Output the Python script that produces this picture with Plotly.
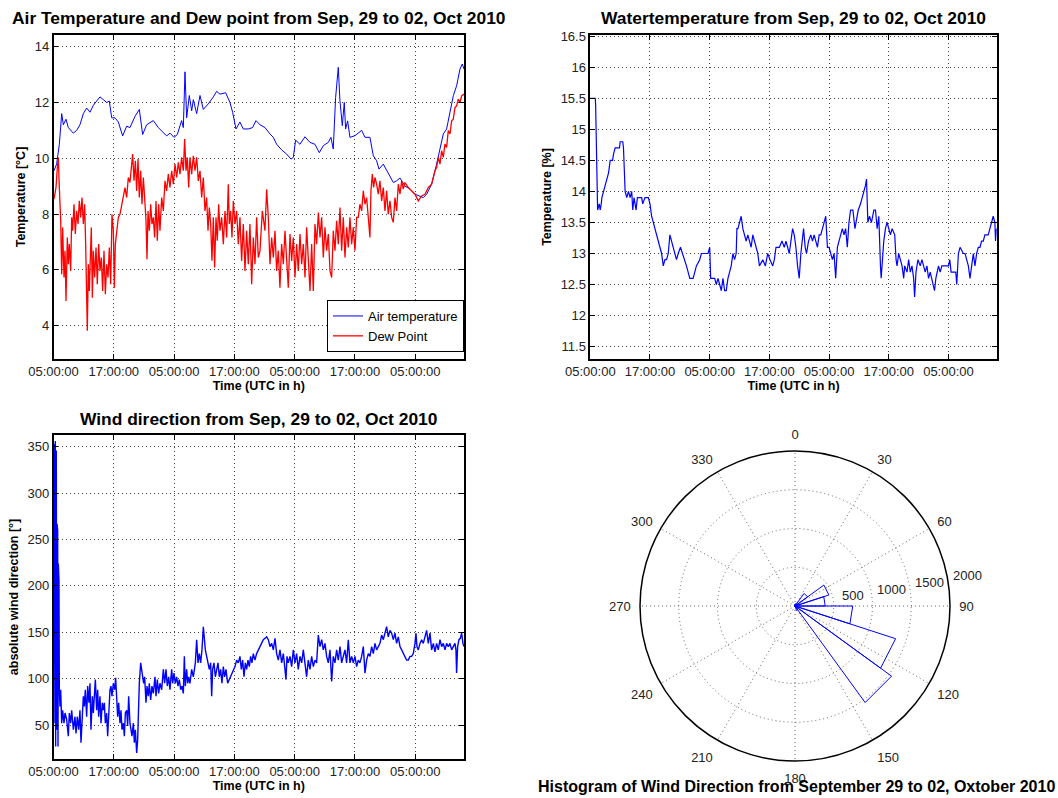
import math
import pandas as pd
import plotly.graph_objects as go

BASE = pd.Timestamp("2010-09-29 05:00:00")
X_END = "2010-10-02 14:42:00"

# ---------------- Air temperature (hours since 29 Sep 05:00, degC)
air_hours = [0.1, 0.63, 1.16, 1.63, 1.96, 2.49, 2.95, 3.42, 3.95, 4.61, 5.27, 5.94, 6.6, 7.26, 7.93,
             8.59, 9.25, 9.92, 10.58, 11.11, 11.58, 12.24, 12.9, 13.76, 14.56, 15.22, 16.22, 17.08,
             17.74, 18.54, 19.86, 20.86, 21.86, 22.52, 23.18, 23.98, 24.64, 25.5, 25.84, 26.17, 26.5,
             27.03, 27.5, 27.83, 28.49, 29.16, 29.82, 30.81, 31.81, 32.47, 33.13, 34.26, 35.12, 35.65,
             36.32, 37.1, 37.77, 38.77, 39.63, 40.3, 41.09, 42.09, 43.09, 43.75, 44.41, 45.4, 46.4,
             47.26, 47.73, 48.19, 49.05, 50.05, 51.04, 52.04, 52.9, 53.7, 54.69, 55.22, 55.68, 56.15,
             56.68, 57.01, 57.48, 57.87, 58.14, 58.54, 59.0, 60.0, 61.33, 61.99, 62.98, 63.65, 64.31,
             64.78, 65.64, 66.31, 66.97, 67.63, 68.29, 68.96, 69.95, 70.95, 71.94, 72.94, 73.6, 74.26,
             75.26, 76.25, 76.92, 77.58, 78.24, 78.91, 79.57, 80.23, 80.9, 81.36, 81.7]
air_temp = [9.55, 9.8, 10.5, 11.6, 11.2, 11.4, 11.1, 11.0, 10.9, 11.0, 11.2, 11.6, 11.8, 11.65, 11.9,
            12.05, 12.2, 12.1, 12.0, 12.05, 11.45, 11.45, 11.3, 10.8, 11.15, 11.1, 11.5, 11.75,
            10.85, 11.2, 11.35, 11.1, 10.9, 10.8, 10.9, 10.75, 10.85, 11.35, 11.1, 13.1, 11.45,
            12.25, 11.7, 12.1, 11.6, 12.25, 11.75, 11.95, 12.2, 12.4, 12.3, 12.35, 12.0, 11.65,
            11.05, 11.3, 11.05, 11.05, 11.1, 11.35, 11.2, 11.1, 10.87, 10.75, 10.5, 10.3, 10.15,
            9.97, 10.03, 10.65, 10.5, 10.77, 10.57, 10.5, 10.2, 10.45, 10.57, 10.75, 10.33, 12.18,
            13.26, 12.06, 11.17, 12.0, 11.05, 11.34, 10.75, 10.81, 11.0, 10.75, 10.75, 10.09, 9.91,
            9.61, 9.79, 9.55, 9.31, 9.13, 9.19, 9.29, 9.0, 8.9, 8.71, 8.65, 8.59, 8.71,
            9.07, 9.79, 10.39, 10.87, 11.05, 11.7, 12.24, 12.6, 13.2, 13.38, 13.2]

# ---------------- Dew point (hours, degC)
dew_hours = [0.1, 0.5, 0.76, 0.96, 1.16, 1.43, 1.63, 1.82, 2.09, 2.29, 2.49, 2.75, 2.95, 3.15, 3.42,
             3.62, 3.81, 4.08, 4.34, 4.61, 4.88, 5.14, 5.41, 5.67, 5.94, 6.2, 6.4, 6.6, 6.73, 6.93,
             7.13, 7.33, 7.53, 7.73, 7.93, 8.19, 8.46, 8.72, 8.99, 9.25, 9.52, 9.78, 10.05, 10.32,
             10.58, 10.85, 11.11, 11.38, 11.64, 11.91, 12.11, 12.31, 12.57, 12.9, 13.23, 13.57, 13.9,
             14.23, 14.56, 14.89, 15.22, 15.49, 15.75, 16.02, 16.29, 16.55, 16.82, 17.08, 17.35,
             17.61, 17.88, 18.14, 18.41, 18.61, 18.81, 19.07, 19.34, 19.6, 19.87, 20.13, 20.4, 20.66,
             20.93, 21.19, 21.53, 21.86, 22.19, 22.52, 22.85, 23.18, 23.52, 23.85, 24.18, 24.51,
             24.84, 25.17, 25.5, 25.84, 26.1, 26.37, 26.63, 26.9, 27.16, 27.5, 27.83, 28.16, 28.49,
             28.82, 29.16, 29.49, 29.82, 30.15, 30.48, 30.75, 31.01, 31.28, 31.54, 31.81, 32.07,
             32.34, 32.6, 32.87, 33.13, 33.47, 33.8, 34.13, 34.46, 34.79, 34.99, 35.26, 35.52, 35.79,
             36.12, 36.45, 36.78, 37.11, 37.44, 37.78, 38.11, 38.44, 38.77, 39.1, 39.44, 39.77, 40.1,
             40.43, 40.76, 41.09, 41.56, 42.09, 42.42, 42.75, 43.09, 43.42, 43.75, 44.08, 44.41,
             44.74, 45.07, 45.4, 45.74, 46.07, 46.4, 46.73, 47.07, 47.4, 47.73, 48.06, 48.39, 48.72,
             49.06, 49.39, 49.72, 50.05, 50.38, 50.72, 51.05, 51.38, 51.71, 52.04, 52.37, 52.71,
             53.04, 53.37, 53.7, 54.03, 54.36, 54.69, 55.03, 55.36, 55.69, 56.02, 56.35, 56.68,
             57.02, 57.35, 57.68, 58.01, 58.34, 58.67, 59.0, 59.34, 59.67, 60.0, 60.33, 60.66, 60.99,
             61.33, 61.66, 61.99, 62.32, 62.65, 62.98, 63.18, 63.45, 63.71, 63.98, 64.31, 64.64,
             64.97, 65.31, 65.64, 65.97, 66.3, 66.63, 66.97, 67.3, 67.63, 67.96, 68.29, 68.62, 68.96,
             69.29, 69.62, 69.95, 70.61, 71.28, 71.94, 72.6, 73.27, 73.93, 74.59, 75.26, 75.59,
             75.92, 76.25, 76.58, 76.92, 77.25, 77.58, 77.91, 78.24, 78.57, 78.91, 79.24, 79.57,
             79.9, 80.23, 80.56, 80.9, 81.23, 81.69]
dew_point = [8.53, 8.95, 9.67, 10.03, 8.95, 7.76, 5.84, 7.52, 5.72, 6.68, 4.88, 7.16, 6.2, 6.92, 5.96,
             7.88, 7.4, 8.35, 7.28, 8.11, 7.64, 8.47, 7.88, 8.59, 7.64, 8.35, 6.92, 5.0, 3.81, 6.2,
             5.24, 6.44, 7.52, 5.0, 6.68, 5.72, 6.8, 5.48, 6.92, 5.96, 6.44, 5.24, 6.68, 5.12,
             6.2, 5.72, 6.8, 5.48, 7.99, 7.4, 5.36, 6.92, 7.4, 7.88, 7.99, 8.35, 8.59,
             8.95, 8.59, 9.31, 9.13, 9.79, 10.15, 9.19, 9.91, 8.83, 9.97, 8.59, 9.55,
             8.35, 9.31, 8.59, 7.76, 6.38, 8.11, 7.4, 8.35, 7.64, 7.88, 7.16, 8.47, 7.04,
             8.35, 7.4, 8.59, 8.11, 9.19, 8.83, 9.43, 8.95, 9.55, 9.07, 9.79, 9.31,
             9.85, 9.43, 10.03, 9.55, 10.69, 9.55, 10.03, 8.95, 10.03, 9.43, 10.09, 9.55, 10.03,
             9.19, 9.55, 8.59, 9.31, 8.11, 8.59, 7.4, 8.23, 7.64, 6.32, 7.88, 6.08,
             7.88, 7.04, 8.35, 7.4, 7.88, 6.92, 8.11, 7.16, 9.07, 7.64, 8.11, 7.16, 8.47,
             7.64, 8.11, 6.92, 7.88, 6.32, 7.64, 5.96, 7.4, 6.2, 7.64, 5.48, 7.16, 6.2,
             7.88, 6.44, 6.68, 8.11, 7.4, 8.89, 7.88, 6.2, 7.16, 6.44, 7.4, 5.96,
             6.68, 5.36, 6.92, 6.2, 7.4, 6.44, 5.36, 7.28, 6.32, 7.16, 5.72, 6.92, 5.96,
             7.28, 6.2, 6.92, 5.72, 7.52, 6.2, 5.24, 6.92, 5.24, 7.64, 6.92, 8.05,
             7.16, 7.88, 6.44, 7.52, 6.68, 7.28, 5.96, 5.72, 7.4, 6.68, 7.76, 6.92,
             8.23, 6.68, 7.88, 6.44, 7.52, 6.8, 7.88, 6.92, 7.52, 6.68, 7.88, 7.88, 8.35,
             8.11, 8.83, 8.35, 8.59, 7.88, 7.16, 8.83, 9.43, 8.95, 9.31, 9.07, 8.71,
             9.19, 8.47, 8.95, 8.11, 8.83, 7.99, 8.47, 7.88, 7.7, 8.59, 8.11, 9.07, 8.71,
             9.19, 8.89, 9.13, 8.95, 8.83, 8.71, 8.47, 8.65, 8.71, 8.95, 9.07, 9.31,
             9.55, 9.67, 10.03, 9.79, 10.27, 10.03, 10.51, 10.39, 10.99, 10.87, 11.34, 11.4,
             11.82, 11.88, 12.12, 12.0, 12.24, 12.3]

# ---------------- Water temperature (hours, degC)
water_hours = [0.0, 1.0, 1.07, 1.13, 1.2, 1.27, 1.47, 1.8, 2.0, 2.2, 2.33, 2.67, 3.0, 3.33, 3.67, 4.0,
               4.47, 4.67, 5.0, 5.87, 6.0, 6.53, 6.67, 7.0, 7.33, 7.67, 8.0, 8.33, 8.53, 8.8, 9.2,
               9.47, 10.33, 10.53, 11.0, 11.67, 12.0, 12.33, 12.67, 12.87, 13.2, 13.67, 14.0, 14.33,
               14.67, 15.0, 15.33, 15.67, 16.0, 16.33, 16.67, 17.0, 17.33, 17.67, 18.13, 18.53, 19.0,
               19.33, 19.67, 20.0, 20.67, 21.0, 21.33, 22.0, 22.33, 23.67, 24.0, 24.2, 25.0, 25.33,
               25.67, 26.0, 26.33, 26.67, 27.0, 27.33, 27.67, 28.0, 28.33, 28.67, 29.0, 29.33, 29.47,
               29.67, 30.0, 30.33, 30.67, 31.0, 31.33, 31.67, 32.0, 32.33, 32.67, 33.0, 33.33, 33.67,
               34.0, 34.67, 35.2, 35.67, 36.13, 36.67, 37.0, 37.33, 38.0, 38.53, 39.0, 39.33, 39.67,
               40.0, 40.33, 40.67, 41.0, 41.33, 41.67, 42.0, 42.33, 42.67, 42.87, 43.2, 43.47, 43.87,
               44.33, 44.67, 45.0, 45.33, 45.67, 46.0, 46.33, 46.67, 47.0, 47.33, 47.67, 48.0, 48.33,
               48.67, 49.0, 49.33, 49.67, 50.0, 50.33, 50.67, 51.0, 51.33, 51.67, 52.0, 52.33, 52.8,
               53.2, 53.47, 53.87, 54.33, 54.67, 55.0, 55.33, 55.53, 55.8, 56.13, 56.53, 57.0, 57.33,
               57.67, 58.0, 58.33, 58.47, 59.0, 59.33, 59.67, 60.0, 60.33, 60.67, 61.2, 61.47, 61.67,
               62.0, 62.33, 62.67, 63.0, 63.2, 63.67, 64.0, 64.33, 64.67, 65.0, 65.2, 65.47, 65.87,
               66.33, 66.67, 67.0, 67.33, 67.67, 68.0, 68.33, 68.67, 69.0, 69.2, 69.47, 69.73, 70.0,
               70.33, 70.67, 72.0, 72.27, 72.53, 73.47, 73.67, 74.0, 74.33, 75.0, 75.33, 75.67, 76.0,
               76.33, 76.67, 77.0, 77.33, 77.67, 78.0, 78.33, 78.67, 79.0, 79.33, 80.0, 80.33, 80.67,
               81.0, 81.33, 81.47, 81.67]
water_temp = [15.5, 15.5, 15.4, 15.1, 15.4, 15.1, 13.7, 13.8, 13.7, 13.8, 13.9, 14.0, 14.1, 14.2, 14.3, 14.5,
              14.5, 14.6, 14.7, 14.7, 14.8, 14.8, 14.7, 14.0, 13.9, 14.0, 13.9, 14.0, 13.7, 13.9, 13.7,
              13.9, 13.9, 13.8, 13.9, 13.9, 13.8, 13.6, 13.5, 13.4, 13.3, 13.2, 13.1, 13.0,
              12.8, 12.9, 12.9, 13.0, 13.3, 13.2, 13.1, 13.0, 12.9, 13.0, 13.1, 13.0, 12.9,
              12.8, 12.7, 12.6, 12.6, 12.7, 12.8, 12.9, 13.0, 13.0, 13.1, 12.6, 12.6, 12.5,
              12.6, 12.5, 12.4, 12.6, 12.4, 12.4, 12.6, 12.7, 12.8, 13.0, 12.9, 13.0, 13.4,
              13.4, 13.5, 13.6, 13.4, 13.3, 13.2, 13.3, 13.2, 13.1, 13.3, 13.2, 13.1, 13.0,
              12.8, 12.9, 12.8, 13.0, 12.9, 12.8, 12.9, 13.1, 13.1, 13.2, 13.1, 13.2, 13.1,
              13.0, 13.2, 13.4, 13.3, 13.1, 12.8, 12.6, 13.0, 13.2, 13.4, 13.1, 13.0, 13.2,
              13.3, 13.2, 13.3, 13.2, 13.1, 13.3, 13.3, 13.4, 13.5, 13.6, 13.1, 13.1, 13.0,
              12.9, 13.0, 12.6, 13.1, 13.2, 13.3, 13.4, 13.3, 13.4, 13.1, 13.5, 13.7, 13.7,
              13.4, 13.5, 13.7, 13.8, 13.9, 14.0, 14.1, 14.2, 13.5, 13.6, 13.5, 13.7, 13.7,
              13.4, 13.6, 12.8, 12.6, 13.2, 13.4, 13.5, 13.4, 13.3, 13.4, 13.3, 12.9, 12.8,
              13.0, 12.9, 12.8, 12.6, 12.8, 12.7, 12.9, 12.7, 12.8, 12.6, 12.3, 12.7, 12.9,
              12.8, 12.9, 12.8, 12.7, 12.8, 12.6, 12.7, 12.6, 12.5, 12.4, 12.6, 12.7, 12.8,
              12.7, 12.8, 12.8, 12.9, 12.7, 12.7, 12.5, 13.0, 13.1, 13.0, 13.0, 12.9, 12.8,
              12.6, 12.8, 13.0, 12.8, 13.0, 13.1, 13.1, 13.2, 13.2, 13.3, 13.3, 13.4, 13.5,
              13.6, 13.5, 13.2, 13.4]

# ---------------- Wind direction (hours, degrees)
wind_hours = [0.10, 0.17, 0.23, 0.30, 0.36, 0.43, 0.50, 0.56, 0.63, 0.70, 0.76, 0.83, 0.90, 0.96, 1.03,
              1.09, 1.16, 1.29, 1.43, 1.56, 1.63, 1.82, 2.09, 2.29, 2.62, 2.95, 3.15, 3.42, 3.62,
              3.95, 4.28, 4.48, 4.74, 5.01, 5.27, 5.47, 5.67, 5.94, 6.14, 6.33, 6.60, 6.80, 7.06,
              7.26, 7.46, 7.73, 7.93, 8.13, 8.33, 8.59, 8.79, 8.99, 9.25, 9.45, 9.72, 9.92, 10.12,
              10.32, 10.58, 10.78, 10.98, 11.24, 11.44, 11.64, 11.91, 12.17, 12.37, 12.57, 12.77,
              12.97, 13.23, 13.43, 13.63, 13.90, 14.10, 14.30, 14.56, 14.76, 14.96, 15.22, 15.42,
              15.62, 15.89, 16.09, 16.29, 16.55, 16.75, 16.95, 17.08, 17.35, 17.55, 17.74, 17.94,
              18.14, 18.41, 18.61, 18.87, 19.07, 19.34, 19.60, 19.87, 20.20, 20.40, 20.66, 20.93,
              21.19, 21.53, 21.86, 22.12, 22.39, 22.65, 22.92, 23.18, 23.52, 23.72, 23.98, 24.25,
              24.51, 24.78, 25.04, 25.31, 25.57, 25.84, 26.04, 26.23, 26.50, 26.70, 26.90, 27.16,
              27.50, 27.83, 28.23, 28.49, 28.76, 29.02, 29.29, 29.55, 29.82, 30.02, 30.22, 30.48,
              30.75, 31.01, 31.28, 31.48, 31.67, 31.94, 32.21, 32.47, 32.74, 33.00, 33.27, 33.53,
              33.80, 34.06, 34.33, 34.66, 34.99, 35.26, 35.52, 35.79, 36.12, 36.45, 36.78, 37.11,
              37.38, 37.65, 37.91, 38.18, 38.44, 38.71, 38.97, 39.24, 39.50, 39.77, 40.10, 40.43,
              40.76, 41.10, 41.43, 41.76, 42.09, 42.42, 42.75, 43.09, 43.42, 43.75, 44.08, 44.41,
              44.74, 45.08, 45.41, 45.74, 46.07, 46.27, 46.47, 46.73, 47.07, 47.40, 47.73, 48.06,
              48.39, 48.72, 49.06, 49.39, 49.72, 50.05, 50.38, 50.71, 51.05, 51.38, 51.71, 52.04,
              52.37, 52.70, 53.04, 53.37, 53.70, 54.03, 54.36, 54.69, 55.03, 55.36, 55.69, 56.02,
              56.35, 56.68, 57.02, 57.35, 57.68, 58.01, 58.34, 58.67, 59.01, 59.34, 59.67, 60.00,
              60.33, 60.66, 60.99, 61.33, 61.66, 61.99, 62.32, 62.65, 62.99, 63.32, 63.65, 63.98,
              64.31, 64.64, 64.98, 65.31, 65.64, 65.97, 66.30, 66.63, 66.97, 67.30, 67.63, 67.96,
              68.29, 68.62, 68.96, 69.29, 69.62, 69.95, 70.28, 70.61, 70.95, 71.28, 71.61, 71.94,
              72.14, 72.34, 72.60, 72.94, 73.27, 73.60, 73.93, 74.26, 74.59, 74.93, 75.26, 75.59,
              75.92, 76.25, 76.58, 76.92, 77.25, 77.58, 77.91, 78.24, 78.57, 78.91, 79.24, 79.57,
              79.90, 80.10, 80.23, 80.43, 80.70, 80.96, 81.23, 81.49, 81.69]
wind_dir = [52, 296, 353, 152, 356, 27, 331, 346, 45, 267, 117, 260, 27, 224, 152,
            206, 88, 70, 88, 63, 52, 66, 52, 63, 56, 38, 63, 52, 66,
            45, 59, 41, 59, 45, 66, 31, 52, 81, 70, 88, 59, 92, 74,
            95, 45, 81, 63, 81, 99, 66, 88, 59, 81, 52, 74, 66, 74,
            52, 63, 38, 66, 88, 92, 81, 95, 88, 101, 81, 59,
            74, 52, 66, 45, 52, 38, 63, 66, 49, 81, 52, 45,
            38, 52, 31, 45, 20, 34, 81, 95, 117, 110, 106, 95,
            102, 74, 92, 81, 95, 77, 92, 84, 102, 81, 99, 84,
            95, 88, 110, 95, 110, 92, 102, 88, 110, 95, 106, 95,
            102, 92, 99, 88, 92, 84, 124, 92, 110, 95, 102, 95,
            110, 102, 117, 142, 117, 127, 117, 131, 156, 138, 131, 124,
            117, 110, 117, 81, 110, 117, 102, 110, 117, 102, 110, 95,
            113, 102, 110, 95, 99, 102, 106, 110, 113, 120, 117, 124,
            110, 120, 102, 117, 110, 120, 113, 124, 117, 127, 120, 127,
            131, 134.5, 138, 142, 143.5, 145, 142, 134.5, 138, 131, 143.5, 127,
            120, 131, 117, 127, 110, 99, 124, 117, 124, 113, 131, 117,
            127, 110, 124, 117, 131, 113, 102, 120, 110, 124, 113, 120,
            117, 147, 134.5, 142, 131, 138, 124, 117, 131, 97, 124, 117,
            131, 120, 134.5, 117, 124, 131, 117, 142, 117, 124, 117, 124,
            113, 120, 117, 124, 134.5, 106, 120, 127, 124, 134.5, 127, 138,
            131, 134.5, 138, 147, 142, 149, 156, 145, 152, 149, 142, 149,
            138, 145, 134.5, 131, 127, 124, 120, 120, 124, 124, 127, 138,
            149, 134.5, 131, 138, 142, 138, 145, 152, 138, 149, 131, 138,
            129, 138, 131, 142, 134.5, 138, 131, 138, 134.5, 138, 131, 134.5,
            138, 131, 106, 134.5, 142, 143.5, 149, 138, 134.5]

# ---------------- Wind-direction rose histogram (20 bins of 18 degrees)
rose_edges = list(range(0, 361, 18))
rose_counts = [20, 35, 200, 460, 390, 745, 1365, 1540, 60, 5,
               3, 3, 3, 3, 4, 4, 4, 5, 8, 20]
angle_ticks = list(range(0, 360, 30))
radial_ticks = [500, 1000, 1500, 2000]
RADIAL_MAX = 2000


def to_time(hours):
    return BASE + pd.to_timedelta(hours, unit="h")


rose_theta, rose_r = [], []
for lo, hi, c in zip(rose_edges[:-1], rose_edges[1:], rose_counts):
    rose_theta += [lo, lo, hi, hi, None]
    rose_r += [0, c, c, 0, None]

FONT = "Liberation Sans, Arial, Helvetica, sans-serif"
W, H = 1058, 798
GRID_DASH = "1px,3px"
GRID_COLOR = "#444444"

# polar placement (pixels)
POLAR_CX, POLAR_CY, POLAR_R = 795, 606, 155
RLABEL_ANGLE = 80      # compass angle of the radial labels
RLABEL_PAD = 20        # outward offset of radial labels from their rings (px)

fig = go.Figure()
fig.add_trace(go.Scatter(x=to_time(air_hours), y=air_temp, mode="lines", name="Air temperature",
                         line=dict(color="#0000ff", width=1), xaxis="x", yaxis="y"))
fig.add_trace(go.Scatter(x=to_time(dew_hours), y=dew_point, mode="lines", name="Dew Point",
                         line=dict(color="#ff0000", width=1.3), xaxis="x", yaxis="y"))
fig.add_trace(go.Scatter(x=to_time(water_hours), y=water_temp, mode="lines", showlegend=False,
                         line=dict(color="#0000ff", width=1.2), xaxis="x2", yaxis="y2"))
fig.add_trace(go.Scatter(x=to_time(wind_hours), y=wind_dir, mode="lines", showlegend=False,
                         line=dict(color="#0000ff", width=1.4), xaxis="x3", yaxis="y3"))
fig.add_trace(go.Scatterpolar(r=rose_r, theta=rose_theta, mode="lines", showlegend=False,
                              line=dict(color="#0000ff", width=1), subplot="polar"))


def px_x(a, b):
    return [a / W, b / W]


def px_y(top, bottom):
    return [1 - bottom / H, 1 - top / H]


common_x = dict(type="date", range=["2010-09-29 05:00:00", X_END], tick0="2010-09-29 05:00:00",
                dtick=12 * 3600 * 1000, tickformat="%H:%M:%S", showline=True, mirror="allticks",
                linecolor="black", linewidth=1.5, ticks="inside", ticklen=5, tickcolor="black",
                showgrid=True, gridcolor=GRID_COLOR, griddash=GRID_DASH, gridwidth=1, zeroline=False,
                tickfont=dict(size=13, color="#222"),
                title=dict(text="<b>Time (UTC in h)</b>", font=dict(size=12.5, color="black"), standoff=2))
common_y = dict(showline=True, mirror="allticks", linecolor="black", linewidth=1.5, ticks="inside",
                ticklen=5, tickcolor="black", showgrid=True, gridcolor=GRID_COLOR, griddash=GRID_DASH,
                gridwidth=1, zeroline=False, tickfont=dict(size=13, color="#222"))

fig.update_layout(
    width=W, height=H, margin=dict(l=0, r=0, t=0, b=0, autoexpand=False),
    paper_bgcolor="white", plot_bgcolor="white",
    font=dict(family=FONT, color="black"),
    xaxis=dict(common_x, domain=px_x(53.5, 464), anchor="y"),
    yaxis=dict(common_y, domain=px_y(35, 359), anchor="x", range=[2.8, 14.42], dtick=2,
               title=dict(text="<b>Temperature [°C]</b>", font=dict(size=12.5), standoff=6)),
    xaxis2=dict(common_x, domain=px_x(590.3, 996.7), anchor="y2"),
    yaxis2=dict(common_y, domain=px_y(35, 359), anchor="x2", range=[11.3, 16.52], dtick=0.5,
                title=dict(text="<b>Temperature [%]</b>", font=dict(size=12.5), standoff=6)),
    xaxis3=dict(common_x, domain=px_x(53.5, 464), anchor="y3"),
    yaxis3=dict(common_y, domain=px_y(435, 759), anchor="x3", range=[13.4, 362.6], dtick=50,
                title=dict(text="<b>absolute wind direction [°]</b>", font=dict(size=12.5), standoff=6)),
    polar=dict(
        domain=dict(x=px_x(POLAR_CX - POLAR_R, POLAR_CX + POLAR_R),
                    y=px_y(POLAR_CY - POLAR_R, POLAR_CY + POLAR_R)),
        bgcolor="white",
        angularaxis=dict(rotation=90, direction="clockwise", tickmode="array", tickvals=angle_ticks,
                         ticktext=[str(a) for a in angle_ticks], showline=True, linecolor="black",
                         linewidth=1.5, showgrid=True, gridcolor="#666666", griddash=GRID_DASH,
                         ticks="outside", ticklen=6, tickcolor="rgba(0,0,0,0)",
                         tickfont=dict(size=13, color="#222")),
        radialaxis=dict(range=[0, RADIAL_MAX], tickmode="array", tickvals=radial_ticks,
                        showticklabels=False, showline=False, ticks="",
                        showgrid=True, gridcolor="#666666", griddash=GRID_DASH),
    ),
    legend=dict(x=464 / W, xanchor="right", y=1 - 352 / H, yanchor="bottom", bgcolor="white",
                bordercolor="black", borderwidth=1, font=dict(size=13), tracegroupgap=0),
)

# radial tick labels, placed just outside each ring (as in the MATLAB rose plot)
for v in radial_ticks:
    rr = POLAR_R * v / RADIAL_MAX + RLABEL_PAD
    lx = POLAR_CX + rr * math.sin(math.radians(RLABEL_ANGLE))
    ly = POLAR_CY - rr * math.cos(math.radians(RLABEL_ANGLE))
    fig.add_annotation(text=str(v), x=lx / W, y=1 - ly / H, xref="paper", yref="paper",
                       xanchor="center", yanchor="middle", showarrow=False,
                       font=dict(size=13, color="#222"))

titles = [
    ("Air Temperature and Dew point from Sep, 29 to 02, Oct 2010", (53.5 + 464) / 2, 18, 17.4),
    ("Watertemperature from Sep, 29 to 02, Oct 2010", (590.3 + 996.7) / 2, 18, 17.4),
    ("Wind direction from Sep, 29 to 02, Oct 2010", (53.5 + 464) / 2, 419, 17.4),
    ("Histogram of Wind Direction from September 29 to 02, Oxtober 2010", 796, 786, 16),
]
for text, cx, cy, size in titles:
    fig.add_annotation(text="<b>%s</b>" % text, x=cx / W, y=1 - cy / H, xref="paper", yref="paper",
                       xanchor="center", yanchor="middle", showarrow=False,
                       font=dict(size=size, color="black"))

fig.write_html("out.html", config={"displayModeBar": False},
               post_script="document.body.style.margin='0';")
